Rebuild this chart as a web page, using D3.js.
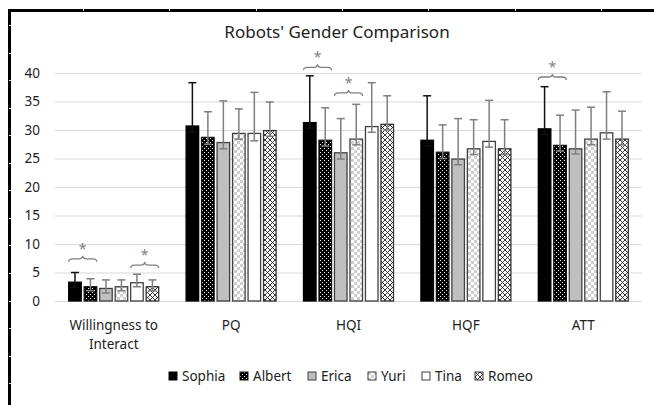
<!DOCTYPE html>
<html>
<head>
<meta charset="utf-8">
<script src="https://cdn.jsdelivr.net/npm/d3@7"></script>
<style>
  body { margin: 0; background: #fff; }
  text { font-family: "Noto Sans", "Open Sans", sans-serif; fill: #222; }
</style>
</head>
<body>
<div id="root"></div>
<script>
const width = 654;
const height = 405;

// data
const categories = ['Willingness to\nInteract', 'PQ', 'HQI', 'HQF', 'ATT'];
const series = ['Sophia', 'Albert', 'Erica', 'Yuri', 'Tina', 'Romeo'];
const values = [
  [3.3, 30.7, 31.3, 28.2, 30.2],   // Sophia
  [2.5, 28.7, 28.2, 26.1, 27.3],   // Albert
  [2.2, 27.8, 26.0, 24.9, 26.7],   // Erica
  [2.5, 29.4, 28.4, 26.7, 28.4],   // Yuri
  [3.2, 29.4, 30.6, 28.0, 29.5],   // Tina
  [2.5, 29.9, 31.0, 26.7, 28.4]    // Romeo
];
// error bar ends (upper and lower), absolute values
const errHigh = [
  [5.0, 38.3, 39.5, 36.0, 37.6],
  [3.9, 33.2, 33.9, 30.9, 32.6],
  [3.7, 35.1, 32.0, 32.0, 33.5],
  [3.7, 33.7, 34.5, 31.8, 34.0],
  [4.7, 36.6, 38.3, 35.2, 36.7],
  [3.7, 34.9, 36.0, 31.8, 33.3]
];
const errLow = [
  [2.4, 29.7, 30.3, 27.2, 29.2],
  [1.8, 27.5, 27.2, 25.0, 26.3],
  [1.4, 26.7, 24.9, 23.9, 25.8],
  [1.8, 28.4, 27.4, 25.7, 27.4],
  [2.5, 28.1, 29.6, 27.0, 28.4],
  [1.8, 28.9, 30.0, 25.7, 27.4]
];
const yTicks = [0, 5, 10, 15, 20, 25, 30, 35, 40];
// significance braces: category, first bar, last bar, level
const sigCat = [0, 0, 2, 2, 4];
const sigFrom = [0, 4, 0, 2, 0];
const sigTo = [1, 5, 1, 3, 1];
const sigLevel = [7.4, 6.3, 41.0, 36.5, 39.3];

const svg = d3.select('#root')
  .append('svg')
  .attr('width', width).attr('height', height);

const defs = svg.append('defs');
// Albert: black with white dots
const pDots = defs.append('pattern').attr('id', 'dots')
  .attr('width', 4).attr('height', 4).attr('patternUnits', 'userSpaceOnUse');
pDots.append('rect').attr('width', 4).attr('height', 4).attr('fill', '#000');
pDots.append('rect').attr('x', 0).attr('y', 0).attr('width', 1).attr('height', 1).attr('fill', '#fff');
pDots.append('rect').attr('x', 2).attr('y', 2).attr('width', 1).attr('height', 1).attr('fill', '#fff');
// Yuri: light checkerboard
const pCheck = defs.append('pattern').attr('id', 'check')
  .attr('width', 6).attr('height', 6).attr('patternUnits', 'userSpaceOnUse');
pCheck.append('rect').attr('width', 6).attr('height', 6).attr('fill', '#fff');
pCheck.append('rect').attr('width', 3).attr('height', 3).attr('fill', '#cfcfcf');
pCheck.append('rect').attr('x', 3).attr('y', 3).attr('width', 3).attr('height', 3).attr('fill', '#cfcfcf');
// Romeo: diagonal cross hatch
const pCross = defs.append('pattern').attr('id', 'cross')
  .attr('width', 5).attr('height', 5).attr('patternUnits', 'userSpaceOnUse');
pCross.append('rect').attr('width', 5).attr('height', 5).attr('fill', '#fff');
pCross.append('path').attr('d', 'M0,0L5,5M5,0L0,5').attr('stroke', '#222').attr('stroke-width', 0.9);

const fills = ['#000', 'url(#dots)', '#bfbfbf', 'url(#check)', '#fff', 'url(#cross)'];
const strokes = ['#000', '#111', '#404040', '#404040', '#404040', '#333'];
const errColors = ['#111', '#7f7f7f', '#7f7f7f', '#7f7f7f', '#7f7f7f', '#7f7f7f'];

// outer frame with ruler ticks
svg.append('rect').attr('x', 8).attr('y', 9).attr('width', width - 8).attr('height', 3).attr('fill', '#000');
svg.append('rect').attr('x', 8).attr('y', 9).attr('width', 3).attr('height', height - 9).attr('fill', '#000');
for (let x = 83; x < width; x += 86.3) {
  svg.append('rect').attr('x', Math.round(x)).attr('y', 9).attr('width', 1).attr('height', 2).attr('fill', '#ddd');
}
for (let y = 25; y < height; y += 27.55) {
  svg.append('rect').attr('x', 9).attr('y', Math.round(y)).attr('width', 2).attr('height', 1).attr('fill', '#ddd');
}

const plot = {left: 55, right: 642, top: 73, bottom: 301};

const x = d3.scaleBand()
  .domain(d3.range(categories.length))
  .range([plot.left, plot.right]);
const xInner = d3.scaleBand()
  .domain(d3.range(series.length))
  .range([-45, 45])
  .paddingInner(0.19);
const y = d3.scaleLinear()
  .domain([0, 40])
  .range([plot.bottom, plot.top]);

// gridlines
svg.append('g')
  .selectAll('line')
  .data(yTicks).enter()
  .append('line')
  .attr('x1', plot.left).attr('x2', plot.right)
  .attr('y1', d => y(d) + 0.5).attr('y2', d => y(d) + 0.5)
  .attr('stroke', '#d9d9d9').attr('stroke-width', 1);

// y axis labels
const yAxis = d3.axisLeft(y).tickValues(yTicks).tickSize(0).tickPadding(0);
svg.append('g')
  .attr('transform', 'translate(40,0)')
  .call(yAxis)
  .call(g => g.select('.domain').remove())
  .call(g => g.selectAll('text').attr('font-size', 13.5).attr('fill', '#222')
    .attr('font-family', '"Noto Sans", sans-serif'));

// bars
series.forEach((s, si) => {
  const g = svg.append('g');
  g.selectAll('rect')
    .data(values[si]).enter()
    .append('rect')
    .attr('x', (d, i) => x(i) + x.bandwidth() / 2 + xInner(si))
    .attr('y', d => y(d))
    .attr('width', xInner.bandwidth())
    .attr('height', d => y(0) - y(d))
    .attr('fill', fills[si])
    .attr('stroke', strokes[si])
    .attr('stroke-width', 1.3);

  const cx = i => x(i) + x.bandwidth() / 2 + xInner(si) + xInner.bandwidth() / 2;
  const eg = g.selectAll('.err')
    .data(values[si]).enter()
    .append('g')
    .attr('stroke', errColors[si]).attr('stroke-width', 1.5);
  eg.append('line')
    .attr('x1', (d, i) => cx(i)).attr('x2', (d, i) => cx(i))
    .attr('y1', (d, i) => y(errLow[si][i])).attr('y2', (d, i) => y(errHigh[si][i]));
  eg.append('line')
    .attr('x1', (d, i) => cx(i) - 4).attr('x2', (d, i) => cx(i) + 4)
    .attr('y1', (d, i) => y(errHigh[si][i])).attr('y2', (d, i) => y(errHigh[si][i]));
  eg.append('line')
    .attr('x1', (d, i) => cx(i) - 4).attr('x2', (d, i) => cx(i) + 4)
    .attr('y1', (d, i) => y(errLow[si][i])).attr('y2', (d, i) => y(errLow[si][i]));
});

// significance braces
function brace(x0, x1, yy) {
  const m = (x0 + x1) / 2;
  return `M${x0},${yy + 3} Q${x0},${yy} ${x0 + 4},${yy} L${m - 4},${yy} Q${m},${yy} ${m},${yy - 3}` +
         ` Q${m},${yy} ${m + 4},${yy} L${x1 - 4},${yy} Q${x1},${yy} ${x1},${yy + 3}`;
}
sigCat.forEach((c, k) => {
  const x0 = x(c) + x.bandwidth() / 2 + xInner(sigFrom[k]);
  const x1 = x(c) + x.bandwidth() / 2 + xInner(sigTo[k]) + xInner.bandwidth();
  const yy = y(sigLevel[k]);
  svg.append('path').attr('d', brace(x0, x1, yy))
    .attr('fill', 'none').attr('stroke', '#7f7f7f').attr('stroke-width', 1.3);
  svg.append('text').attr('x', (x0 + x1) / 2).attr('y', yy - 5)
    .attr('text-anchor', 'middle').attr('font-size', 14)
    .style('fill', '#7f7f7f').text('*');
});

// category labels
categories.forEach((c, i) => {
  const t = svg.append('text')
    .attr('x', x(i) + x.bandwidth() / 2)
    .attr('y', 330)
    .attr('text-anchor', 'middle')
    .attr('font-size', 13.5);
  c.split('\n').forEach((line, li) => {
    t.append('tspan').attr('x', x(i) + x.bandwidth() / 2).attr('dy', li ? 19 : 0).text(line);
  });
});

// title
svg.append('text')
  .attr('x', 337).attr('y', 38)
  .attr('text-anchor', 'middle')
  .attr('font-size', 17)
  .text("Robots' Gender Comparison");

// legend
const legendX = [169, 240, 308, 368, 422, 475];
const lg = svg.selectAll('.legend')
  .data(series).enter()
  .append('g')
  .attr('transform', (d, i) => `translate(${legendX[i]}, 372)`);
lg.append('rect')
  .attr('width', 8).attr('height', 8)
  .attr('fill', (d, i) => fills[i])
  .attr('stroke', (d, i) => strokes[i]).attr('stroke-width', 1);
lg.append('text')
  .attr('x', 13).attr('y', 9)
  .attr('font-size', 13.5)
  .text(d => d);
</script>
</body>
</html>
